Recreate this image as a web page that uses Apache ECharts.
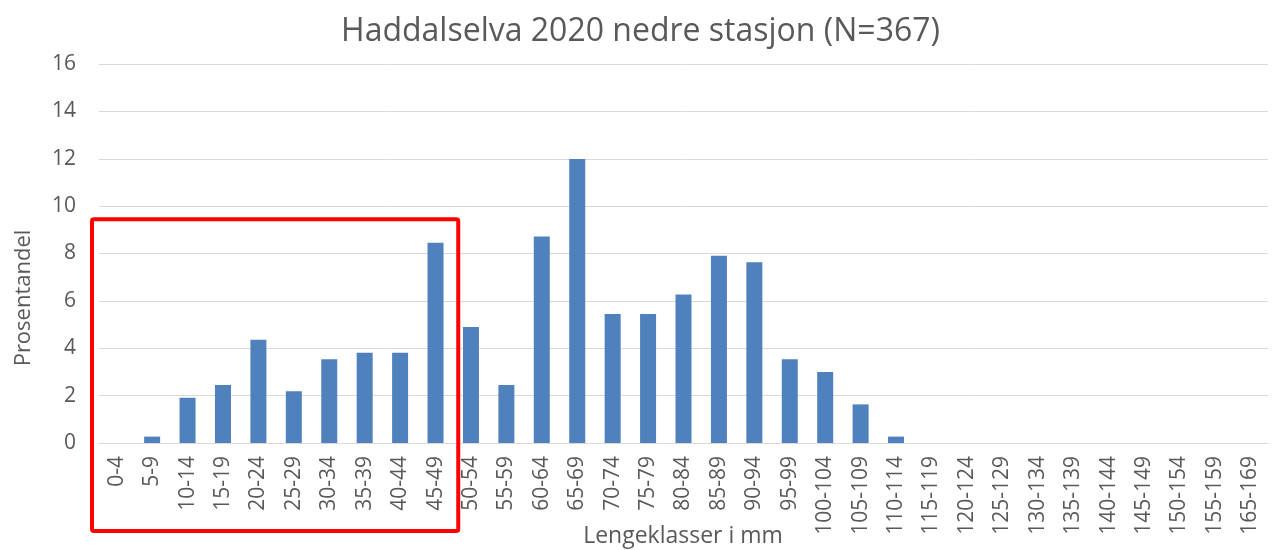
<!DOCTYPE html>
<html>
<head>
<meta charset="utf-8">
<script src="https://cdn.jsdelivr.net/npm/echarts@6/dist/echarts.min.js"></script>
<style>
    html, body { margin: 0; padding: 0; background: #fff; }
    #chart { width: 1281px; height: 550px; }
</style>
</head>
<body>
<div id="chart"></div>
<script>
// lengdeklasser (mm) - 160-164 mangler i originalen
var categories = ['0-4', '5-9', '10-14', '15-19', '20-24', '25-29', '30-34', '35-39', '40-44', '45-49',
    '50-54', '55-59', '60-64', '65-69', '70-74', '75-79', '80-84', '85-89', '90-94', '95-99',
    '100-104', '105-109', '110-114', '115-119', '120-124', '125-129', '130-134', '135-139',
    '140-144', '145-149', '150-154', '155-159', '165-169'];
// prosentandel
var values = [0, 0.27, 1.91, 2.45, 4.36, 2.18, 3.54, 3.81, 3.81, 8.45,
    4.90, 2.45, 8.72, 11.99, 5.45, 5.45, 6.27, 7.90, 7.63, 3.54,
    3.00, 1.63, 0.27, 0, 0, 0, 0, 0,
    0, 0, 0, 0, 0];
var yTicks = [0, 2, 4, 6, 8, 10, 12, 14, 16];

var textColor = '#595959',
    font = 'Open Sans';

(function () {
    var myChart = echarts.init(document.getElementById('chart'));

    var option = {
        animation: false,
        title: {
            text: 'Haddalselva 2020 nedre stasjon (N=367)',
            left: 'center',
            top: 11,
            textStyle: { fontFamily: font, fontSize: 32, fontWeight: 'normal', color: textColor }
        },
        grid: { left: 99, right: 13, top: 64, bottom: 107 },
        xAxis: {
            type: 'category',
            data: categories,
            axisLine: { lineStyle: { color: '#d9d9d9' } },
            axisTick: { show: false },
            axisLabel: {
                rotate: 90,
                interval: 0,
                margin: 13,
                color: textColor,
                fontFamily: font,
                fontSize: 21
            }
        },
        yAxis: {
            type: 'value',
            min: yTicks[0],
            max: yTicks[yTicks.length - 1],
            interval: 2,
            axisLine: { show: false },
            axisTick: { show: false },
            splitLine: { lineStyle: { color: '#d9d9d9' } },
            axisLabel: { color: textColor, fontFamily: font, fontSize: 21, margin: 23 }
        },
        series: [{
            type: 'bar',
            data: values,
            barWidth: 16,
            itemStyle: { color: '#4f81bd' }
        }]
    };
    myChart.setOption(option);

    // rød ramme rundt 0-49 mm, og aksetitler
    var topLeft = myChart.convertToPixel({ seriesIndex: 0 }, [0, 9.45]);
    var lastRight = myChart.convertToPixel({ seriesIndex: 0 }, [9, 0]);
    var step = lastRight[0] - topLeft[0];
    var x0 = 92,
        x1 = lastRight[0] + step / 9 / 2 + 5,
        y0 = topLeft[1],
        y1 = 531;

    myChart.setOption({
        graphic: [{
            type: 'rect',
            shape: { x: x0, y: y0, width: x1 - x0, height: y1 - y0, r: 2 },
            style: { fill: 'none', stroke: '#ff0000', lineWidth: 4 },
            z: 100
        }, {
            type: 'text',
            x: 683,
            y: 536,
            style: {
                text: 'Lengeklasser i mm',
                fill: textColor,
                font: '23px "Open Sans"',
                align: 'center',
                verticalAlign: 'middle'
            }
        }, {
            type: 'text',
            x: 24,
            y: 298,
            rotation: Math.PI / 2,
            style: {
                text: 'Prosentandel',
                fill: textColor,
                font: '22px "Open Sans"',
                align: 'center',
                verticalAlign: 'middle'
            }
        }]
    });
})();
</script>
</body>
</html>
